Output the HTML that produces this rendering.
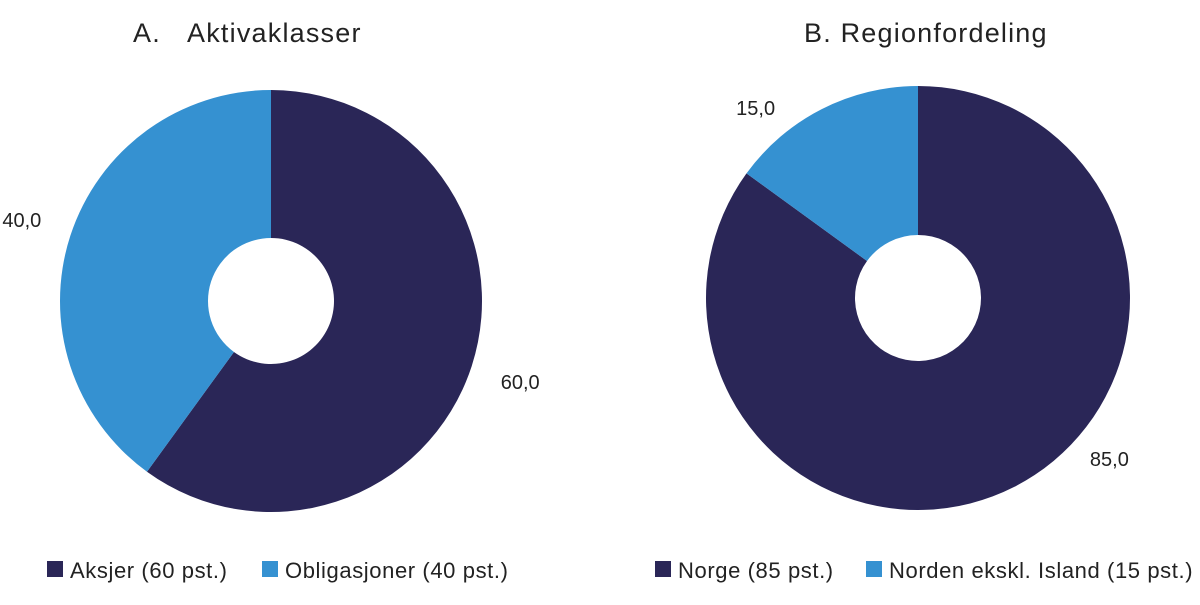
<!DOCTYPE html>
<html><head><meta charset="utf-8">
<style>
body{margin:0;background:#fff;font-family:"Liberation Sans",sans-serif;}
svg text{font-family:"Liberation Sans",sans-serif;fill:#222;}
</style></head>
<body>
<svg id="chart" width="1200" height="600"></svg>
<script>
const panelTitles = ["A.\u00a0\u00a0\u00a0Aktivaklasser", "B. Regionfordeling"];
const seriesA = [60, 40];
const seriesB = [85, 15];
const labelsA = ["Aksjer (60 pst.)", "Obligasjoner (40 pst.)"];
const labelsB = ["Norge (85 pst.)", "Norden ekskl. Island (15 pst.)"];
const colors = ["#2a2657", "#3591d1"];

const NS = "http://www.w3.org/2000/svg";
const svg = document.getElementById("chart");
function mk(tag, attrs){const e=document.createElementNS(NS,tag);for(const k in attrs)e.setAttribute(k,attrs[k]);svg.appendChild(e);return e;}
function fmt(v){return v.toFixed(1).replace(".",",");}

const panels = [
 {cx:271, cy:301, r:211, ri:63, vals:seriesA, names:labelsA, title:panelTitles[0], tx:133, legX:[47,262], key:"a", lr:262, lf:[0.5,0.5]},
 {cx:918, cy:298, r:212, ri:63, vals:seriesB, names:labelsB, title:panelTitles[1], tx:804, legX:[655,866], key:"b", lr:250, lf:[0.425,0.25]}
];
panels.forEach(p=>{
  const t = mk("text",{x:p.tx,y:42,"font-size":27,"letter-spacing":1.2});
  t.textContent = p.title;
  
  
  const total = p.vals.reduce((a,b)=>a+b,0);
  let a0 = 0;
  p.vals.forEach((v,i)=>{
    const a1 = a0 + v/total*2*Math.PI;
    const pt=(r,a)=>[p.cx+r*Math.sin(a), p.cy-r*Math.cos(a)];
    const [x0,y0]=pt(p.r,a0),[x1,y1]=pt(p.r,a1),[x2,y2]=pt(p.ri,a1),[x3,y3]=pt(p.ri,a0);
    const large = (a1-a0)>Math.PI?1:0;
    const path = mk("path",{d:`M${x0},${y0}A${p.r},${p.r} 0 ${large} 1 ${x1},${y1}L${x2},${y2}A${p.ri},${p.ri} 0 ${large} 0 ${x3},${y3}Z`,fill:colors[i]});
    
    
    const la = a0 + (a1-a0)*p.lf[i];
    const [lx,ly]=pt(p.lr,la);
    const lab = mk("text",{x:lx,y:ly+7,"font-size":20,"text-anchor":"middle"});
    lab.textContent = fmt(v);
    
    
    a0=a1;
  });
  p.names.forEach((n,i)=>{
    const sq = mk("rect",{x:p.legX[i],y:561,width:16,height:16,fill:colors[i]});
    
    
    const lt = mk("text",{x:p.legX[i]+23,y:578,"font-size":22,"letter-spacing":0.6});
    lt.textContent = n;
    
    
  });
});
</script>
</body></html>
